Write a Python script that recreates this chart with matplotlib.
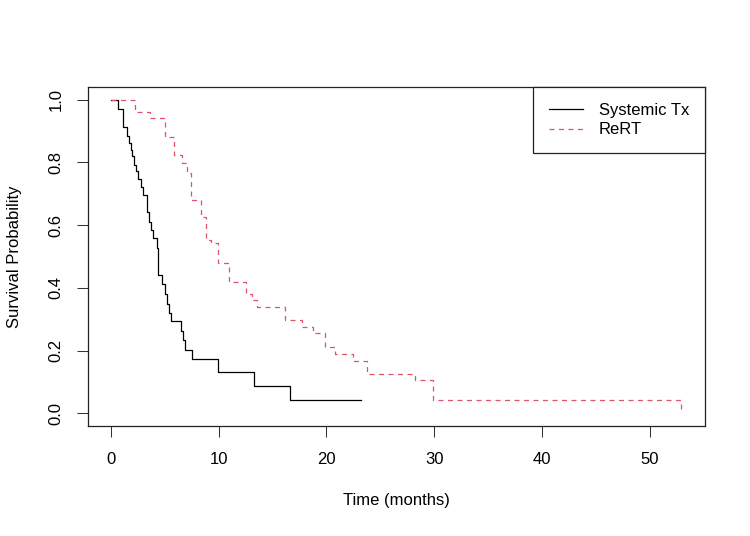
import matplotlib.pyplot as plt

plt.rcParams['font.family'] = ['Liberation Sans', 'DejaVu Sans']

# Kaplan-Meier step values
sys_time = [0, 0.68, 1.14, 1.51, 1.70, 1.85, 2.01, 2.16, 2.31, 2.53, 2.78, 2.99,
            3.33, 3.55, 3.77, 3.95, 4.26, 4.38, 4.72, 5.0, 5.2, 5.4, 5.6, 6.48,
            6.7, 6.85, 7.5, 9.97, 13.3, 16.6, 23.2]
sys_surv = [1.0, 0.971, 0.912, 0.883, 0.862, 0.840, 0.819, 0.792, 0.771, 0.747,
            0.723, 0.696, 0.643, 0.611, 0.585, 0.558, 0.526, 0.441, 0.411, 0.38,
            0.35, 0.32, 0.293, 0.263, 0.233, 0.203, 0.175, 0.131, 0.088, 0.044,
            0.044]

rert_time = [0, 2.2, 3.6, 5.0, 5.86, 6.6, 7.1, 7.4, 8.33, 8.8, 9.3, 9.9, 10.95,
             12.5, 13.1, 13.6, 16.2, 17.75, 18.8, 19.9, 20.8, 22.5, 23.8, 28.2,
             29.9, 52.9]
rert_surv = [1.0, 0.96, 0.94, 0.88, 0.824, 0.797, 0.766, 0.68, 0.627, 0.553,
             0.542, 0.478, 0.42, 0.382, 0.361, 0.34, 0.297, 0.276, 0.255, 0.212,
             0.19, 0.167, 0.125, 0.105, 0.042, 0.0]

labels = ['Systemic Tx', 'ReRT']
xticks = [0, 10, 20, 30, 40, 50]
yticks = [0.0, 0.2, 0.4, 0.6, 0.8, 1.0]

fig = plt.figure(figsize=(7.5, 5.36), dpi=100)
ax = fig.add_axes([0.1173, 0.2052, 0.8227, 0.6325])

ax.step(sys_time, sys_surv, where='post', color='black', lw=0.9, label=labels[0])
ax.step(rert_time, rert_surv, where='post', color='#DF536B', lw=0.9,
        linestyle=(0, (4, 3.6)), label=labels[1])

ax.set_xlim(-2.12, 55.12)
ax.set_ylim(-0.04, 1.04)
ax.set_xticks(xticks)
ax.set_xticklabels([str(x) for x in xticks])
ax.set_yticks(yticks)
ax.set_yticklabels(['%.1f' % y for y in yticks])
plt.setp(ax.get_yticklabels(), rotation=90, va='center')

ax.tick_params(axis='both', direction='out', length=7.7, width=0.75,
               labelsize=12, color='#333333')
ax.tick_params(axis='x', pad=11)
ax.tick_params(axis='y', pad=10)
for s in ax.spines.values():
    s.set_linewidth(0.9)
    s.set_color('#222222')

ax.set_xlabel('Time (months)', fontsize=12, labelpad=18.5)
ax.set_ylabel('Survival Probability', fontsize=12, labelpad=19)

leg = ax.legend(loc='upper right', borderaxespad=0, fontsize=12, fancybox=False,
                edgecolor='#222222', framealpha=1, handlelength=2.04,
                handletextpad=0.96, borderpad=0.95, labelspacing=0.28)
leg.get_frame().set_linewidth(0.9)

fig.savefig('out.png', dpi=100)
